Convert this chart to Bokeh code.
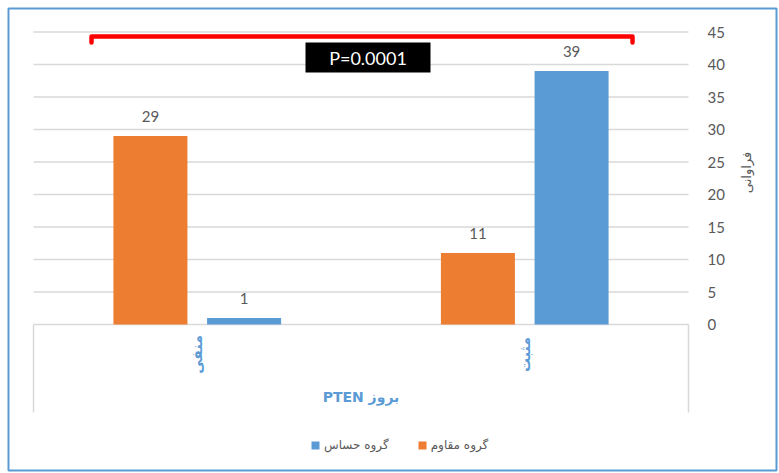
from bokeh.plotting import figure
from bokeh.models import Range1d, ColumnDataSource, Legend, LegendItem
from bokeh.core.properties import value
from bokeh.embed import file_html
from bokeh.resources import INLINE
import math

# ---- data ----
categories = ["منفی", "مثبت"]
resistant = [29, 11]      # گروه مقاوم
sensitive = [1, 39]       # گروه حساس
series_names = ["گروه مقاوم", "گروه حساس"]
y_ticks = [0, 5, 10, 15, 20, 25, 30, 35, 40, 45]
y_title = "فراوانی"
x_title = "PTEN بروز"
p_text = "P=0.0001"

ORANGE = "#ED7D31"
BLUE = "#5B9BD5"
GRID = "#D9D9D9"
TXT = "#595959"

W, H = 779, 473
X0, XS = 33.0, 327.5   # px of x=0, px per category
Y0, YS = 324.0, 6.5    # px of y=0, px per unit


def dx(px):
    return (px - X0) / XS


def dy(py):
    return (Y0 - py) / YS


p = figure(width=W, height=H, output_backend="svg", toolbar_location=None,
           x_range=Range1d(dx(0), dx(W)), y_range=Range1d(dy(H), dy(0)),
           min_border=0, min_border_left=0, min_border_right=0,
           min_border_top=0, min_border_bottom=0)
p.axis.visible = False
p.grid.visible = False
p.outline_line_color = None
p.background_fill_color = "white"
p.border_fill_color = "white"

# outer frame
p.quad(left=dx(8), right=dx(776), top=dy(8), bottom=dy(470),
       fill_alpha=0, line_color=BLUE, line_width=2)

# gridlines
gt = [t for t in y_ticks if t > 0]
p.segment(x0=[0] * len(gt), x1=[2] * len(gt), y0=gt, y1=gt,
          line_color=GRID, line_width=1.3)
# category box
box_bottom = dy(412)
p.segment(x0=[0, 0, 2], x1=[2, 0, 2], y0=[0, 0, 0], y1=[0, box_bottom, box_bottom],
          line_color=GRID, line_width=1.5)

centers = [i + 0.5 for i in range(len(categories))]
off = 0.143
bw = 0.226
src_r = ColumnDataSource(dict(x=[c - off for c in centers], top=resistant,
                              lab=[str(v) for v in resistant]))
src_s = ColumnDataSource(dict(x=[c + off for c in centers], top=sensitive,
                              lab=[str(v) for v in sensitive]))
r_r = p.vbar(x="x", top="top", width=bw, bottom=0, source=src_r,
             fill_color=ORANGE, line_color=None)
r_s = p.vbar(x="x", top="top", width=bw, bottom=0, source=src_s,
             fill_color=BLUE, line_color=None)

for src in (src_r, src_s):
    p.text(x="x", y="top", text="lab", source=src, y_offset=-20,
           text_align="center", text_baseline="middle",
           text_color=TXT, text_font_size="15px", text_font=value("Lato"))

# y tick labels (right side)
p.text(x=[dx(707)] * len(y_ticks), y=y_ticks, text=[str(t) for t in y_ticks],
       text_align="left", text_baseline="middle", text_color=TXT,
       text_font_size="15px", text_font=value("Lato"))
# y title
p.text(x=[dx(746)], y=[dy(172)], text=[y_title], angle=math.pi / 2,
       text_align="center", text_baseline="middle", text_color=TXT,
       text_font_size="13px", text_font=value("DejaVu Sans"))

# category labels
p.text(x=centers, y=[dy(354)] * len(centers), text=categories, angle=math.pi / 2,
       text_align="center", text_baseline="middle", text_color=BLUE,
       text_font_size="14px", text_font_style="bold", text_font=value("DejaVu Sans"))
# x title
p.text(x=[1.0], y=[dy(396)], text=[x_title], text_align="center",
       text_baseline="middle", text_color=BLUE, text_font_size="14px",
       text_font_style="bold", text_font=value("DejaVu Sans"))

# significance bracket
p.line(x=[dx(91), dx(91), dx(632), dx(632)], y=[dy(42), dy(36), dy(36), dy(42)],
       line_color="#FF0000", line_width=4.5, line_join="round", line_cap="round")
p.quad(left=dx(305), right=dx(430), top=dy(42), bottom=dy(72),
       fill_color="black", line_color=None)
p.text(x=[dx(367.5)], y=[dy(57)], text=[p_text], text_align="center",
       text_baseline="middle", text_color="white", text_font_size="18px",
       text_font=value("Lato"))

legend = Legend(items=[LegendItem(label=series_names[1], renderers=[r_s]),
                       LegendItem(label=series_names[0], renderers=[r_r])],
                orientation="horizontal", location=(310, 21),
                glyph_width=10, glyph_height=10, label_standoff=4, spacing=28,
                label_text_font_size="12px", label_text_color=TXT,
                label_text_font="DejaVu Sans", label_height=12,
                border_line_alpha=0, background_fill_alpha=0,
                padding=0, margin=0)
p.add_layout(legend)

open("out.html", "w").write(file_html(p, INLINE))
